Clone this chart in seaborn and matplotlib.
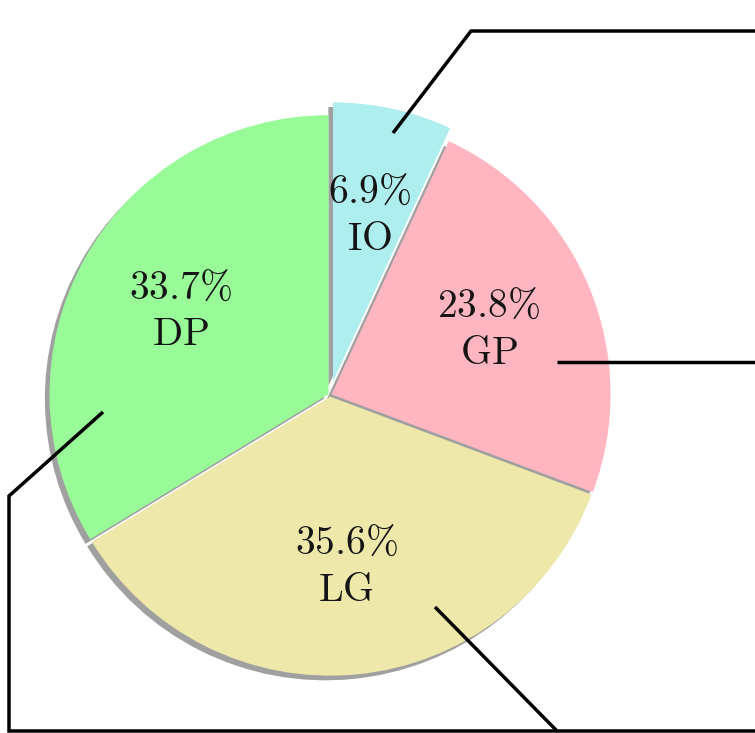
import numpy as np
import matplotlib
matplotlib.use("Agg")
import matplotlib.pyplot as plt
import seaborn as sns

# ---- data ----
labels = ["IO", "GP", "LG", "DP"]
shares = [6.9, 23.8, 35.6, 33.7]
colors = ["paleturquoise", "lightpink", "palegoldenrod", "palegreen"]
explode = [0.05, 0.006, 0.006, 0.006]

sns.set_theme(style="white")
plt.rcParams["mathtext.fontset"] = "cm"

W, H, DPI = 755, 733, 100
fig = plt.figure(figsize=(W / DPI, H / DPI), dpi=DPI)
ax = fig.add_axes([0, 0, 1, 1])

lab_iter = iter(labels)


def fmt(pct):
    return "$\\mathrm{%.1f\\%%}$\n$\\mathrm{%s}$" % (pct, next(lab_iter))


wedges, _, autotexts = ax.pie(
    shares,
    explode=explode,
    colors=colors,
    startangle=90,
    counterclock=False,
    shadow=dict(ox=-0.012, oy=-0.012, color="0.5", alpha=0.75),
    autopct=fmt,
    pctdistance=0.61,
    labels=None,
    wedgeprops=dict(edgecolor="none", linewidth=0),
    textprops=dict(fontsize=28.5, color="#151515", linespacing=1.22),
)
for t in autotexts:
    t.set_ha("center")
    t.set_va("center")

# layout: pie centre at pixel (330,395), radius 279 px
cx, cy, R = 330, 395, 279
ax.set_xlim(-cx / R, (W - cx) / R)
ax.set_ylim(-(H - cy) / R, cy / R)
ax.set_aspect("auto")
ax.axis("off")

# leader lines (layout, in pixel coordinates of the figure)
leaders = [
    [(393, 133), (471, 31), (770, 31)],
    [(557, 362), (770, 362)],
    [(435, 607), (557, 731), (770, 731)],
    [(103, 412), (9, 496), (9, 731), (557, 731)],
]
for pts in leaders:
    xs = [(p[0] - cx) / R for p in pts]
    ys = [(cy - p[1]) / R for p in pts]
    ax.plot(xs, ys, color="black", lw=2.5, solid_joinstyle="miter",
            solid_capstyle="butt", clip_on=False, zorder=5)

fig.savefig("out.png", dpi=DPI)
